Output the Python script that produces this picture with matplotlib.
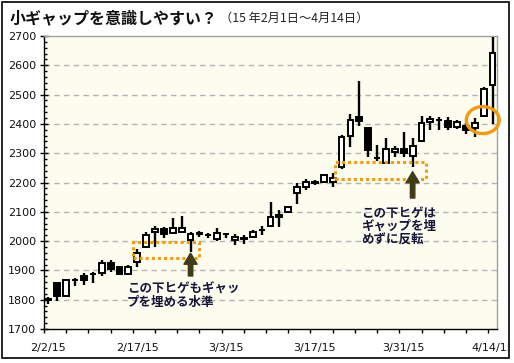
import matplotlib
matplotlib.use("Agg")
import matplotlib.pyplot as plt
from matplotlib.patches import Rectangle, Ellipse
from matplotlib.transforms import Bbox
import numpy as np

# ---- data (trading-day index 0..50, 2/2/15 .. 4/14/15) ----
opens  = [1800, 1856, 1811, 1866, 1882, 1888, 1890, 1926, 1911, 1887,
          1930, 1981, 2030, 2041, 2027, 2030, 2004, 2025, 2021, 2007,
          2024, 2004, 2010, 2013, 2037, 2053, 2081, 2100, 2163, 2184,
          2199, 2203, 2203, 2254, 2360, 2425, 2387, 2283, 2268, 2303,
          2314, 2292, 2343, 2408, 2414, 2411, 2391, 2394, 2385, 2427,
          2533]
highs  = [1810, 1861, 1870, 1873, 1890, 1893, 1935, 1935, 1915, 1918,
          1972, 2032, 2053, 2049, 2078, 2086, 2030, 2033, 2027, 2044,
          2027, 2024, 2020, 2038, 2051, 2134, 2106, 2120, 2200, 2213,
          2207, 2230, 2233, 2362, 2434, 2546, 2387, 2328, 2351, 2325,
          2373, 2351, 2427, 2427, 2424, 2424, 2414, 2404, 2419, 2525,
          2698]
lows   = [1785, 1797, 1808, 1848, 1850, 1858, 1881, 1894, 1883, 1887,
          1913, 1975, 1981, 2009, 2027, 2027, 1962, 2015, 2012, 2001,
          2010, 1985, 1991, 2010, 2021, 2049, 2049, 2097, 2126, 2176,
          2190, 2200, 2186, 2246, 2322, 2394, 2288, 2275, 2266, 2288,
          2288, 2252, 2337, 2379, 2379, 2379, 2384, 2366, 2354, 2425,
          2400]
closes = [1801, 1811, 1867, 1867, 1867, 1889, 1924, 1904, 1887, 1911,
          1958, 2021, 2041, 2024, 2044, 2044, 2024, 2026, 2022, 2027,
          2025, 2015, 2006, 2030, 2038, 2083, 2089, 2115, 2186, 2203,
          2200, 2226, 2214, 2356, 2413, 2410, 2311, 2284, 2313, 2314,
          2300, 2325, 2402, 2416, 2415, 2391, 2408, 2379, 2402, 2518,
          2641]
label_pos = [0, 10, 20, 30, 40, 50]
tick_labels = ["2/2/15", "2/17/15", "3/3/15", "3/17/15", "3/31/15", "4/14/15"]

title_main = "小ギャップを意識しやすい？"
title_sub = "（15 年2月1日～4月14日）"
note1 = "この下ヒゲもギャッ\nプを埋める水準"
note2 = "この下ヒゲは\nギャップを埋\nめずに反転"

W, H = 514, 363
fig = plt.figure(figsize=(W / 100, H / 100), dpi=100)
fig.patch.set_facecolor("white")

def fx(px):
    return px / W

def fy(py):
    return 1 - py / H

ax = fig.add_axes([fx(44), fy(329), fx(497) - fx(44), fy(36) - fy(329)])
ax.set_facecolor("#fdfdef")

x = np.arange(len(opens))
o = np.array(opens, float); c = np.array(closes, float)
hi = np.array(highs, float); lo = np.array(lows, float)
up = c >= o

ax.vlines(x, lo, hi, color="black", lw=1.7, zorder=3)
ax.bar(x[up], (c - o)[up], bottom=o[up], width=0.66, facecolor="white",
       edgecolor="black", linewidth=1.4, zorder=4)
ax.bar(x[~up], (c - o)[~up], bottom=o[~up], width=0.66, facecolor="black",
       edgecolor="black", linewidth=1.4, zorder=4)

ax.set_xlim(-0.5, 50.5)
ax.set_ylim(1700, 2700)

# grid
for yv in range(1800, 2700, 100):
    ax.axhline(yv, color="#b4b4b4", lw=1.0, ls=(0, (4, 3)), zorder=1)

# spines
for s in ["left", "bottom"]:
    ax.spines[s].set_color("black"); ax.spines[s].set_linewidth(1.0)
for s in ["top", "right"]:
    ax.spines[s].set_color("#a0a0a0"); ax.spines[s].set_linewidth(1.0)

# x ticks
ax.set_xticks(label_pos)
ax.set_xticklabels(tick_labels)
ax.set_xticks(np.arange(-0.5, 51, 2.5), minor=True)
ax.tick_params(axis="x", which="major", length=0, pad=10, labelsize=8,
               labelcolor="#111")
ax.tick_params(axis="x", which="minor", length=3, direction="out", width=1)
# y ticks
ax.set_yticks(np.arange(1700, 2701, 100))
ax.set_yticks(np.arange(1700, 2701, 20), minor=True)
ax.tick_params(axis="y", which="major", length=5.5, direction="inout",
               width=1, pad=3, labelsize=8, labelcolor="#111")
ax.tick_params(axis="y", which="minor", length=2, direction="in", width=1)

# clip last x label at the frame
fig.canvas.draw()
clip = Bbox.from_extents(2, 0, 508, H)
for t in ax.get_xticklabels():
    t.set_clip_box(clip)
    t.set_clip_on(True)

orange = "#f59a0c"
# gap rectangles
ax.add_patch(Rectangle((9.57, 1941), 16.9 - 9.57, 1996 - 1941, fill=False,
                       edgecolor=orange, lw=2.2, ls=(0, (1, 1)), zorder=5))
ax.add_patch(Rectangle((32.3, 2212), 42.5 - 32.3, 2271 - 2212, fill=False,
                       edgecolor=orange, lw=2.2, ls=(0, (1, 1)), zorder=5))
# ellipse
ax.add_patch(Ellipse((48.9, 2413), 3.7, 92, fill=False, edgecolor=orange,
                     lw=2.4, zorder=6, clip_on=False))

# arrows
arrow_col = "#403c18"
for xa, ytip, ybase in [(16, 1959, 1881), (41, 2237, 2147)]:
    ax.annotate("", xy=(xa, ytip), xytext=(xa, ybase),
                arrowprops=dict(arrowstyle="simple,head_length=8,head_width=9.5,tail_width=3.2",
                                mutation_scale=1, color=arrow_col,
                                shrinkA=0, shrinkB=0), zorder=6)

txtcol = "#15153a"
cjk = ["Noto Sans CJK JP", "DejaVu Sans"]
fig.text(fx(127), fy(296), note1, family=cjk, fontsize=9, color=txtcol,
         va="center", ha="left", linespacing=1.05, weight="bold")
fig.text(fx(361), fy(226), note2, family=cjk, fontsize=9, color=txtcol,
         va="center", ha="left", linespacing=1.0, weight="bold")

# title
t1 = fig.text(fx(10), fy(18), title_main, family=cjk, fontsize=11.5,
              weight="bold", color="#111", va="center", ha="left")
fig.canvas.draw()
bb = t1.get_window_extent()
fig.text(bb.x1 / W + fx(2), fy(18), title_sub, family=cjk, fontsize=8.8,
         color="#222", va="center", ha="left")

# outer frame
fig.add_artist(Rectangle((fx(2), fy(358)), fx(509) - fx(2), fy(2) - fy(358),
                         transform=fig.transFigure, fill=False,
                         edgecolor="black", lw=1.2))

fig.savefig("out.png", dpi=100)
